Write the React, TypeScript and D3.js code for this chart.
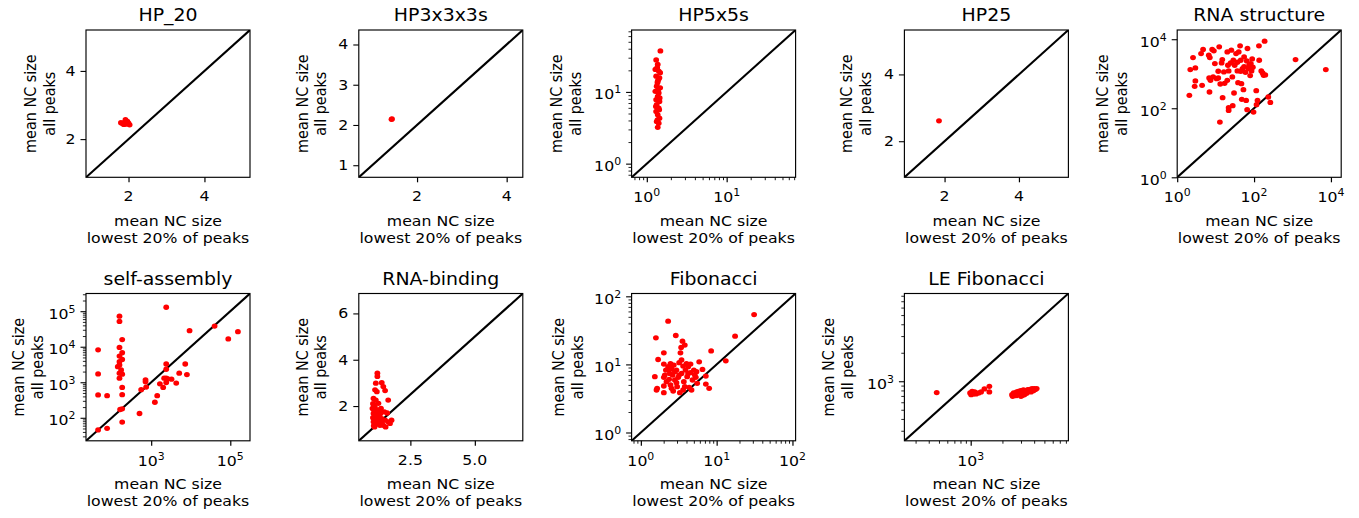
import React, { useLayoutEffect, useRef } from "react";
import * as d3 from "d3";

const W = 1359;
const H = 518;

const titles = [
  "HP_20",
  "HP3x3x3s",
  "HP5x5s",
  "HP25",
  "RNA structure",
  "self-assembly",
  "RNA-binding",
  "Fibonacci",
  "LE Fibonacci",
];

// HP_20
const hp20X = [1.8, 1.85, 1.88, 1.9, 1.92, 1.95, 1.97, 2.0, 2.03];
const hp20Y = [2.48, 2.45, 2.43, 2.5, 2.57, 2.44, 2.52, 2.47, 2.42];

// HP3x3x3s
const hp3X = [1.43, 1.44];
const hp3Y = [2.14, 2.15];

// HP5x5s
const hp5X = [1.48, 1.31, 1.37, 1.28, 1.41, 1.47, 1.31, 1.44, 1.37, 1.33, 1.47, 1.28, 1.41, 1.37, 1.31, 1.44, 1.33, 1.41, 1.31, 1.37, 1.44, 1.33, 1.41, 1.37, 1.36, 1.39, 1.3, 1.45, 1.4, 1.35, 1.43, 1.36];
const hp5Y = [37.3, 27.9, 24.2, 20.6, 19.5, 18.5, 16.6, 15.7, 14.1, 12.0, 11.4, 10.2, 9.67, 8.67, 7.79, 7.38, 6.62, 5.95, 5.34, 4.79, 4.3, 3.86, 3.66, 3.21, 13.4, 10.8, 6.28, 8.22, 14.9, 21.8, 5.63, 4.07];

// HP25
const hp25X = [1.85];
const hp25Y = [2.61];

// RNA structure
const rnaStructX = [2.07, 2.19, 2.58, 2.97, 2.85, 2.97, 4.18, 4.72, 4.44, 6.64, 7.06, 6.78, 7.35, 6.92, 8.13, 8.99, 8.63, 9.55, 10.6, 11.7, 11.7, 12.4, 13.2, 12.9, 14.3, 14.9, 15.2, 16.4, 17.1, 20.1, 20.9, 21.8, 20.1, 21.8, 21.8, 24.6, 25.6, 27.2, 28.9, 27.8, 30.1, 31.3, 34.0, 36.8, 36.8, 38.3, 39.9, 43.3, 45.0, 45.0, 47.9, 46.9, 49.8, 52.9, 55.1, 55.1, 59.7, 62.2, 64.7, 67.4, 66.1, 70.2, 74.5, 79.2, 82.4, 85.9, 89.3, 93.0, 96.8, 114, 116, 123, 134, 136, 154, 167, 188, 177, 196, 235, 265, 1200, 7360];
const rnaStructY = [237, 1320, 2940, 1475, 432, 618, 3850, 5030, 462, 3440, 2940, 755, 646, 296, 5030, 4600, 807, 1970, 722, 755, 1180, 6010, 505, 39.7, 2060, 2580, 202, 1130, 528, 4300, 1760, 1206, 646, 104, 86.7, 2060, 4810, 807, 2460, 119, 277, 1760, 3850, 2150, 1206, 552, 4300, 6430, 2460, 1180, 181, 517, 1410, 346, 3080, 1610, 1100, 169, 2350, 5380, 90.7, 1410, 1800, 883, 1970, 1206, 2690, 1540, 77.6, 323, 127, 169, 6430, 2460, 1206, 1055, 8790, 903, 923, 212, 148, 2580, 1320];

// self-assembly
const selfAsmX = [45.5, 45.5, 45.5, 45.5, 76.9, 76.9, 158, 158, 158, 158, 158, 158, 158, 158, 164, 185, 185, 185, 174, 185, 185, 185, 185, 185, 143, 559, 507, 720, 720, 747, 1240, 1420, 1660, 2010, 2130, 2400, 2400, 2400, 2400, 2400, 2640, 3270, 4300, 5120, 7260, 8000, 9340, 40100, 88900, 156000];
const selfAsmY = [8200, 1720, 439, 45.4, 420, 50.6, 72600, 51500, 9530, 5460, 3800, 3070, 1800, 1300, 171, 15900, 6760, 4400, 2220, 1690, 716, 448, 179, 75.9, 2750, 617, 132, 1170, 1030, 733, 274, 420, 906, 716, 1300, 129000, 3270, 2320, 1300, 986, 1250, 1220, 946, 1800, 3270, 1650, 28300, 38200, 16600, 26500];

// RNA-binding
const rnaBindX = [1.22, 1.22, 1.16, 1.39, 1.45, 1.13, 1.2, 1.52, 1.07, 1.16, 1.64, 1.11, 1.26, 1.03, 1.21, 1.36, 1.49, 1.07, 1.13, 1.26, 1.39, 1.52, 1.64, 1.07, 1.2, 1.32, 1.45, 1.11, 1.54, 1.71, 1.77, 1.29, 1.16, 1.24, 1.34, 1.05, 1.1, 1.15, 1.18, 1.22, 1.08, 1.12, 1.25, 1.3, 1.05, 1.4, 1.6];
const rnaBindY = [3.42, 3.28, 2.99, 3.01, 2.84, 2.7, 2.62, 2.67, 2.33, 2.26, 2.26, 2.04, 2.12, 1.9, 1.83, 1.9, 1.75, 1.68, 1.54, 1.61, 1.46, 1.39, 1.32, 1.32, 1.25, 1.17, 1.17, 1.1, 1.1, 1.25, 1.39, 1.39, 1.39, 1.75, 1.68, 1.5, 1.8, 1.2, 1.6, 1.45, 1.15, 1.95, 1.3, 1.55, 2.1, 1.25, 1.7];

// Fibonacci
const fibX = [1.53, 1.58, 1.61, 1.64, 1.69, 2.01, 2.01, 2.01, 2.01, 2.01, 2.14, 2.29, 2.29, 2.36, 2.41, 2.46, 2.54, 2.62, 2.67, 2.72, 2.81, 2.89, 2.95, 3.01, 3.11, 3.2, 3.27, 3.33, 3.4, 3.44, 3.54, 3.61, 3.69, 3.8, 3.88, 4.0, 4.08, 4.21, 4.34, 4.52, 4.66, 4.8, 5.0, 5.15, 5.31, 5.53, 5.88, 6.5, 7.2, 7.2, 7.96, 8.46, 13.2, 17.5, 31.2, 2.18, 2.54, 2.81, 3.2, 3.44, 3.8, 4.21, 2.46, 2.95, 2.07, 2.36, 3.61, 4.52, 5.42];
const fibY = [6.6, 24.6, 4.21, 4.45, 11.8, 14.8, 10.1, 6.45, 4.82, 3.85, 8.26, 43.1, 9.25, 6.03, 7.38, 4.98, 8.74, 6.98, 4.07, 9.78, 5.9, 26.6, 8.26, 4.71, 6.45, 10.6, 3.85, 14.8, 17.7, 7.38, 21.9, 9.46, 5.57, 19.2, 8.26, 10.3, 6.6, 9.25, 4.61, 7.55, 4.21, 5.9, 8.26, 6.98, 6.45, 5.27, 10.9, 8.45, 6.75, 5.15, 4.45, 15.8, 11.3, 26.0, 53.9, 5.57, 4.45, 7.81, 6.98, 11.6, 4.71, 7.38, 10.3, 5.39, 6.98, 8.45, 4.21, 10.1, 7.81];

// LE Fibonacci
const leFibX = [476, 987, 1031, 1061, 1125, 1191, 1255, 1349, 1503, 1503, 1010, 1090, 2466, 2501, 2556, 2653, 2731, 2793, 2851, 2897, 2979, 3069, 3112, 3162, 3251, 3350, 3396, 3475, 3548, 3656, 3733, 3819, 3926, 4018, 4103, 4227, 3000, 3229, 2693];
const leFibY = [759, 753, 783, 735, 735, 753, 771, 830, 885, 771, 722, 771, 722, 693, 752, 735, 771, 722, 783, 746, 796, 759, 710, 809, 771, 796, 746, 816, 783, 822, 771, 836, 796, 836, 816, 836, 693, 722, 705];

const panels = [
  { xs: hp20X, ys: hp20Y, log: false, lim: [0.88, 5.2], xTicks: [2, 4], yTicks: [2, 4], xMinor: false, yMinor: false, fmt: "d" },
  { xs: hp3X, ys: hp3Y, log: false, lim: [0.7, 4.36], xTicks: [2, 4], yTicks: [1, 2, 3, 4], xMinor: false, yMinor: false, fmt: "d" },
  { xs: hp5X, ys: hp5Y, log: true, lim: [0.645, 73], xTicks: [1, 10], yTicks: [1, 10], xMinor: true, yMinor: true },
  { xs: hp25X, ys: hp25Y, log: false, lim: [0.92, 5.33], xTicks: [2, 4], yTicks: [2, 4], xMinor: false, yMinor: false, fmt: "d" },
  { xs: rnaStructX, ys: rnaStructY, log: true, lim: [1, 18500], xTicks: [1, 100, 10000], yTicks: [1, 100, 10000], xMinor: false, yMinor: false },
  { xs: selfAsmX, ys: selfAsmY, log: true, lim: [22.5, 315000], xTicks: [1000, 100000], yTicks: [100, 1000, 10000, 100000], xMinor: false, yMinor: true },
  { xs: rnaBindX, ys: rnaBindY, log: false, lim: [0.5, 6.86], xTicks: [2.5, 5.0], yTicks: [2, 4, 6], xMinor: false, yMinor: false, fmt: ".1f", yFmt: "d" },
  { xs: fibX, ys: fibY, log: true, lim: [0.755, 110], xTicks: [1, 10, 100], yTicks: [1, 10, 100], xMinor: true, yMinor: true },
  { xs: leFibX, ys: leFibY, log: true, lim: [235, 8450], xTicks: [1000], yTicks: [1000], xMinor: true, yMinor: true },
];

// layout (pixels); the figure is a little wider than it is tall, so text is stretched sideways
const colLeft = [86, 358.8, 631.6, 904.4, 1177.2];
const rowTop = [30, 293.5];
const axW = 164;
const axH = 147.3;
const ylabOff = [28, 29, 47, 30, 47, 40, 29, 45, 48];
const FONT = "DejaVu Sans";
const fs = 14.4;
const SX = 1.093;

const minorTicks = (lim: number[]) => {
  const out: number[] = [];
  for (let k = Math.floor(Math.log10(lim[0])); k <= Math.ceil(Math.log10(lim[1])); k++) {
    for (let m = 2; m <= 9; m++) {
      const v = m * Math.pow(10, k);
      if (v >= lim[0] && v <= lim[1]) out.push(v);
    }
  }
  return out;
};

const addText = (parent: any, x: number, y: number, size: number, anchor: string) =>
  parent
    .append("text")
    .attr("transform", `translate(${x},${y}) scale(${SX},1)`)
    .attr("text-anchor", anchor)
    .attr("font-size", size);

const writeLabel = (text: any, v: number, log: boolean, fmt: string) => {
  if (log) {
    text.append("tspan").text("10");
    text
      .append("tspan")
      .attr("font-size", 10)
      .attr("dy", -6)
      .text(String(Math.round(Math.log10(v))));
  } else {
    text.text(d3.format(fmt)(v));
  }
};

export default function App() {
  const ref = useRef<SVGSVGElement>(null);

  useLayoutEffect(() => {
    document.body.style.margin = "0";
    const svg = d3.select(ref.current);
    svg.selectAll("*").remove();
    svg.append("rect").attr("width", W).attr("height", H).attr("fill", "white");

    panels.forEach((p, i) => {
      const left = colLeft[i % 5];
      const top = rowTop[Math.floor(i / 5)];
      const g = svg
        .append("g")
        .attr("transform", `translate(${left},${top})`)
        .attr("font-family", FONT)
        .attr("fill", "black");

      const x = (p.log ? d3.scaleLog() : d3.scaleLinear()).domain(p.lim).range([0, axW]);
      const y = (p.log ? d3.scaleLog() : d3.scaleLinear()).domain(p.lim).range([axH, 0]);

      // clip area for data
      const clipId = `clip-${i}`;
      g.append("clipPath").attr("id", clipId).append("rect").attr("width", axW).attr("height", axH);
      const plot = g.append("g").attr("clip-path", `url(#${clipId})`);

      // y = x line
      plot
        .append("line")
        .attr("x1", x(p.lim[0]))
        .attr("y1", y(p.lim[0]))
        .attr("x2", x(p.lim[1]))
        .attr("y2", y(p.lim[1]))
        .attr("stroke", "black")
        .attr("stroke-width", 2.1);

      plot
        .selectAll("ellipse")
        .data(d3.zip(p.xs, p.ys))
        .join("ellipse")
        .attr("cx", (d) => x(d[0]))
        .attr("cy", (d) => y(d[1]))
        .attr("rx", 2.9)
        .attr("ry", 2.65)
        .attr("fill", "#ff0000");

      // ticks
      const gx = g
        .append("g")
        .attr("transform", `translate(0,${axH})`)
        .call(d3.axisBottom(x).tickValues(p.xTicks).tickSize(5).tickFormat(() => ""));
      gx.select(".domain").remove();
      gx.selectAll(".tick line").attr("stroke-width", 1.2);

      const gy = g.append("g").call(d3.axisLeft(y).tickValues(p.yTicks).tickSize(5.5).tickFormat(() => ""));
      gy.select(".domain").remove();
      gy.selectAll(".tick line").attr("stroke-width", 1.1);

      if (p.xMinor) {
        const mx = g
          .append("g")
          .attr("transform", `translate(0,${axH})`)
          .call(d3.axisBottom(x).tickValues(minorTicks(p.lim)).tickSize(2.9).tickFormat(() => ""));
        mx.select(".domain").remove();
        mx.selectAll(".tick line").attr("stroke-width", 0.9);
      }
      if (p.yMinor) {
        const my = g.append("g").call(d3.axisLeft(y).tickValues(minorTicks(p.lim)).tickSize(3.1).tickFormat(() => ""));
        my.select(".domain").remove();
        my.selectAll(".tick line").attr("stroke-width", 0.85);
      }

      // tick labels
      p.xTicks.forEach((v) => {
        const t = addText(g, x(v), axH + (p.log ? 25 : 24), fs, "middle");
        writeLabel(t, v, p.log, p.fmt);
      });
      p.yTicks.forEach((v) => {
        const t = addText(g, -10.5, y(v) + (p.log ? 7.5 : 5), fs, "end");
        writeLabel(t, v, p.log, p.yFmt || p.fmt);
      });

      // frame
      g.append("rect")
        .attr("width", axW)
        .attr("height", axH)
        .attr("fill", "none")
        .attr("stroke", "black")
        .attr("stroke-width", 1.15);

      // title
      addText(g, axW / 2, -9, 17.3, "middle").text(titles[i]);

      // x label
      ["mean NC size", "lowest 20% of peaks"].forEach((s, k) => {
        addText(g, axW / 2, axH + 48.5 + k * 16.7, fs, "middle").text(s);
      });

      // y label
      const yl = g
        .append("g")
        .attr("transform", `translate(${-ylabOff[i] - 3.4},${axH / 2}) rotate(-90)`);
      ["mean NC size", "all peaks"].forEach((s, k) => {
        yl.append("text")
          .attr("transform", `translate(0,${(k - 1) * 18.9}) scale(1,${SX})`)
          .attr("text-anchor", "middle")
          .attr("font-size", fs)
          .text(s);
      });
    });
  }, []);

  return (
    <div style={{ width: W, height: H, overflow: "hidden" }}>
      <svg ref={ref} width={W} height={H} style={{ display: "block" }}></svg>
    </div>
  );
}
